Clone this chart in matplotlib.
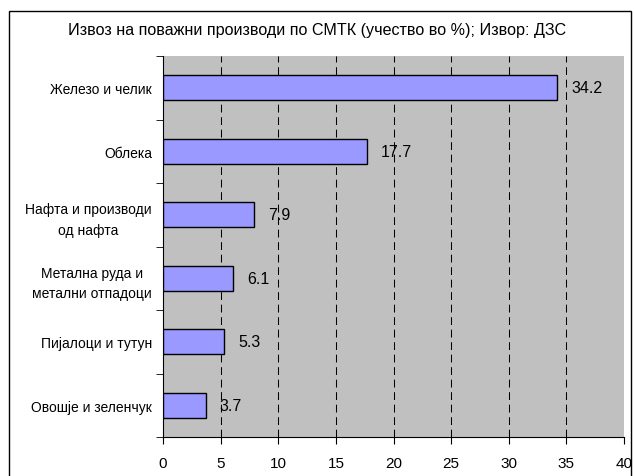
import numpy as np
import matplotlib.pyplot as plt
from matplotlib.patches import Rectangle

plt.rcParams['font.family'] = ['Liberation Sans', 'DejaVu Sans']

categories = [
    'Железо и челик',
    'Облека',
    'Нафта и производи\nод нафта',
    'Метална руда и\nметални отпадоци',
    'Пијалоци и тутун',
    'Овошје и зеленчук',
]
values = [34.2, 17.7, 7.9, 6.1, 5.3, 3.7]
value_labels = ['34.2', '17.7', '7.9', '6.1', '5.3', '3.7']
title = 'Извоз на поважни производи по СМТК (учество во %); Извор: ДЗС'

fig = plt.figure(figsize=(6.34, 4.77), dpi=100)
fig.patches.append(Rectangle((9 / 634, -0.1), (631 - 9) / 634, 1 - 12 / 477 + 0.1,
                             transform=fig.transFigure, fill=False,
                             edgecolor='black', linewidth=1))
ax = fig.add_axes([163 / 634, 1 - 438 / 477, (624 - 163) / 634, (438 - 57) / 477])
ax.set_facecolor('#c0c0c0')

n = len(categories)
ypos = np.arange(n)[::-1]
ax.barh(ypos, values, height=0.4, color='#9999ff', edgecolor='black',
        linewidth=1, zorder=3)
for y, v, lab in zip(ypos, values, value_labels):
    ax.annotate(lab, (v, y), xytext=(10, 0), textcoords='offset points',
                va='center', ha='left', fontsize=11.5, zorder=4)

ax.set_xlim(0, 40)
ax.set_ylim(-0.5, n - 0.5)
ax.set_xticks(np.arange(0, 41, 5))
ax.tick_params(axis='x', direction='out', length=5, labelsize=11, pad=9)
for x in range(5, 40, 5):
    ax.axvline(x, color='black', linestyle=(0, (7.5, 4.5)), linewidth=0.75, zorder=1)

ax.set_yticks(ypos)
ax.set_yticklabels(categories, fontsize=10, linespacing=1.6)
ax.set_yticks(np.arange(-0.5, n, 1), minor=True)
ax.tick_params(axis='y', which='major', length=0, pad=8)
ax.tick_params(axis='y', which='minor', direction='out', length=5)
for lbl in ax.get_yticklabels():
    lbl.set_multialignment('center')

for s in ['top', 'right']:
    ax.spines[s].set_visible(False)

fig.text(0.5, 1 - 30 / 477, title, ha='center', va='center', fontsize=11.6)

fig.savefig('out.png', dpi=100)
